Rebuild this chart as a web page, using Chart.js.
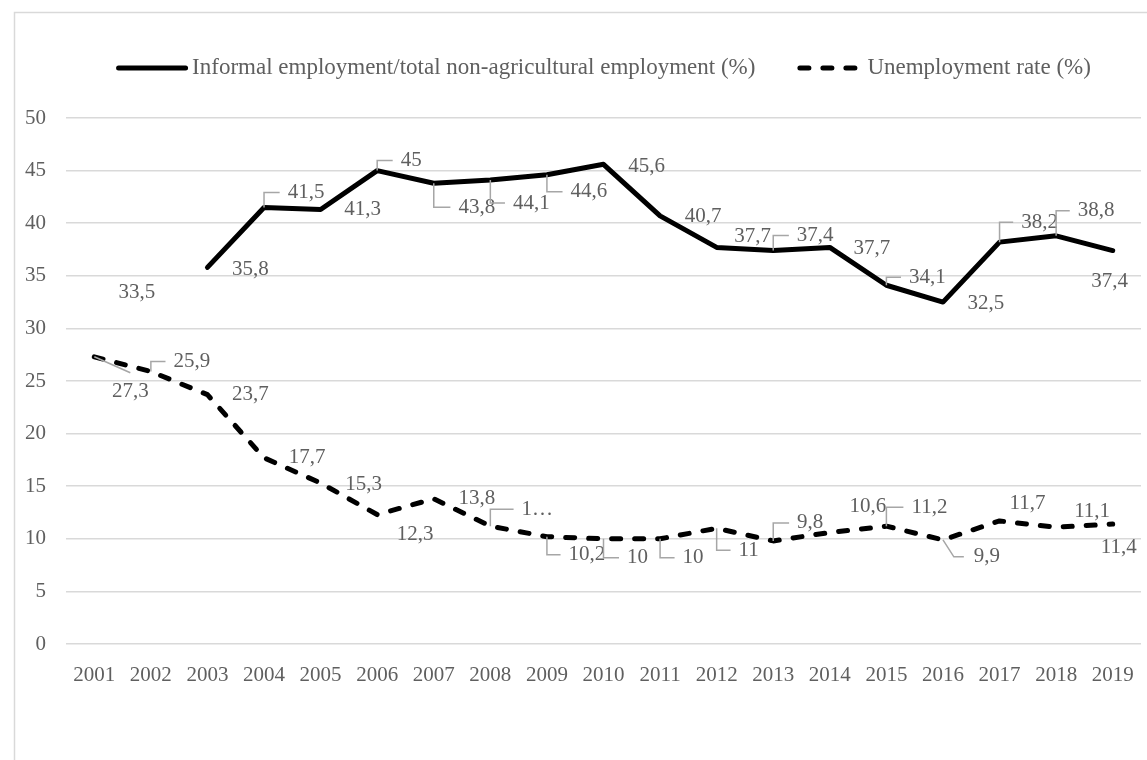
<!DOCTYPE html>
<html>
<head>
<meta charset="utf-8">
<script src="https://cdn.jsdelivr.net/npm/chart.js@4.4.1/dist/chart.umd.min.js"></script>
<style>
  html, body { margin: 0; padding: 0; background: #fff; }
</style>
</head>
<body>
<canvas id="line-chart" width="1147" height="760"></canvas>
<script>
var years = ["2001", "2002", "2003", "2004", "2005", "2006", "2007", "2008", "2009", "2010",
  "2011", "2012", "2013", "2014", "2015", "2016", "2017", "2018", "2019"];
var informal = [null, 33.5, 35.8, 41.5, 41.3, 45, 43.8, 44.1, 44.6, 45.6,
  40.7, 37.7, 37.4, 37.7, 34.1, 32.5, 38.2, 38.8, 37.4];
var unemployment = [27.3, 25.9, 23.7, 17.7, 15.3, 12.3, 13.8, 11.2, 10.2, 10,
  10, 11, 9.8, 10.6, 11.2, 9.9, 11.7, 11.1, 11.4];
var seriesNames = ["Informal employment/total non-agricultural employment (%)", "Unemployment rate (%)"];

// where each data label sits relative to its point: [dx, dy, leader]
// leader: '' none, 'b' bracket, 'd' diagonal + hook, 't' line to label top
var informalLabelPos = [null, [-14, 1, ''], [43, 2, ''], [42, -15, 'b'], [42, 0, ''], [34, -10, 'b'],
  [43, 24, 'b'], [41, 23, 'b'], [42, 17, 'b'], [43, 2, ''], [43, 1, ''], [36, -11, ''],
  [42, -15, 'b'], [42, 1, ''], [41, -8, 'b'], [43, 1, ''], [40, -20, 'b'], [40, -25, 'b'], [-3, 31, '']];
var unemploymentLabelPos = [[36, 35, 't'], [41, -10, 'b'], [43, 0, ''], [43, 0, ''], [43, 1, ''],
  [38, 20, ''], [43, 0, ''], [47, -17, 'b'], [40, 18, 'b'], [34, 19, 'b'], [33, 19, 'b'],
  [32, 22, 'b'], [37, -18, 'b'], [38, -26, ''], [43, -19, 'b'], [44, 17, 'd'], [28, -17, ''],
  [36, -16, ''], [6, 23, '']];
var unemploymentLabelText = {7: "1\u2026"};

var FONT = "'Liberation Serif', 'DejaVu Serif', serif";
var GREY = "#5f5f5f";

function fmt(v) {
  return String(v).replace('.', ',');
}

var decor = {
  id: 'decor',
  beforeDraw: function (chart) {
    var ctx = chart.ctx;
    ctx.save();
    ctx.strokeStyle = '#d9d9d9';
    ctx.lineWidth = 1.5;
    ctx.beginPath();
    ctx.moveTo(14.5, 800);
    ctx.lineTo(14.5, 12.5);
    ctx.lineTo(1200, 12.5);
    ctx.stroke();
    ctx.restore();
  },
  afterDatasetsDraw: function (chart) {
    var ctx = chart.ctx;
    ctx.save();
    ctx.font = "21px " + FONT;
    ctx.textAlign = 'center';
    ctx.textBaseline = 'middle';
    var sets = [[0, informal, informalLabelPos, {}], [1, unemployment, unemploymentLabelPos, unemploymentLabelText]];
    sets.forEach(function (s) {
      var meta = chart.getDatasetMeta(s[0]);
      s[1].forEach(function (v, i) {
        if (v === null || !s[2][i]) return;
        var pt = meta.data[i];
        var pos = s[2][i];
        var txt = s[3][i] || fmt(v);
        var lx = pt.x + pos[0], ly = pt.y + pos[1];
        var w = ctx.measureText(txt).width;
        ctx.strokeStyle = '#a6a6a6';
        ctx.lineWidth = 1.5;
        ctx.beginPath();
        if (pos[2] === 'b') {
          ctx.moveTo(pt.x, pt.y);
          ctx.lineTo(pt.x, ly);
          ctx.lineTo(lx - w / 2 - 8, ly);
        } else if (pos[2] === 'd') {
          ctx.moveTo(pt.x, pt.y);
          ctx.lineTo(lx - w / 2 - 20, ly);
          ctx.lineTo(lx - w / 2 - 10, ly);
        } else if (pos[2] === 't') {
          ctx.moveTo(pt.x, pt.y);
          ctx.lineTo(lx, ly - 19);
        }
        ctx.stroke();
        ctx.fillStyle = GREY;
        ctx.fillText(txt, lx, ly);
      });
    });
    ctx.restore();
  },
  afterDraw: function (chart) {
    // legend
    var ctx = chart.ctx;
    ctx.save();
    ctx.font = "23px " + FONT;
    var w1 = ctx.measureText(seriesNames[0]).width;
    var w2 = ctx.measureText(seriesNames[1]).width;
    var total = 72 + 4 + w1 + 42 + 65 + 5 + w2;
    var x = (chart.chartArea.left + chart.chartArea.right) / 2 - total / 2;
    var y = 68;
    ctx.strokeStyle = '#000';
    ctx.lineWidth = 5;
    ctx.lineCap = 'round';
    ctx.beginPath();
    ctx.moveTo(x + 2.5, y);
    ctx.lineTo(x + 72 - 2.5, y);
    ctx.stroke();
    ctx.fillStyle = GREY;
    ctx.textBaseline = 'middle';
    ctx.fillText(seriesNames[0], x + 76, y);
    var x2 = x + 76 + w1 + 42;
    ctx.setLineDash([9, 14]);
    ctx.beginPath();
    ctx.moveTo(x2 + 2.5, y);
    ctx.lineTo(x2 + 65, y);
    ctx.stroke();
    ctx.setLineDash([]);
    ctx.fillText(seriesNames[1], x2 + 70, y);
    ctx.restore();
  }
};

new Chart(document.getElementById("line-chart"), {
  type: 'line',
  data: {
    labels: years,
    datasets: [
      {
        label: seriesNames[0],
        data: informal,
        borderColor: "#000",
        borderWidth: 5,
        borderCapStyle: 'round',
        borderJoinStyle: 'round',
        pointRadius: 0,
        segment: {
          borderColor: function (c) { return c.p0DataIndex < 2 ? 'transparent' : '#000'; }
        }
      },
      {
        label: seriesNames[1],
        data: unemployment,
        borderColor: "#000",
        borderWidth: 5,
        borderDash: [9, 14],
        borderCapStyle: 'round',
        borderJoinStyle: 'round',
        pointRadius: 0
      }
    ]
  },
  options: {
    responsive: false,
    animation: false,
    layout: {
      padding: { left: 14, right: 6, top: 118, bottom: 71 }
    },
    plugins: {
      legend: { display: false },
      tooltip: { enabled: false }
    },
    scales: {
      x: {
        offset: true,
        grid: { display: false },
        border: { display: false },
        ticks: {
          color: GREY,
          font: { family: FONT, size: 21 },
          padding: 11,
          maxRotation: 0,
          autoSkip: false
        },
        afterFit: function (s) { s.height = 45; }
      },
      y: {
        min: 0,
        max: 50,
        border: { display: false },
        grid: { color: '#d9d9d9', lineWidth: 1.5, drawTicks: false },
        ticks: {
          stepSize: 5,
          color: GREY,
          font: { family: FONT, size: 21 },
          padding: 20
        },
        afterFit: function (s) { s.width = 52; }
      }
    }
  },
  plugins: [decor]
});
</script>
</body>
</html>
